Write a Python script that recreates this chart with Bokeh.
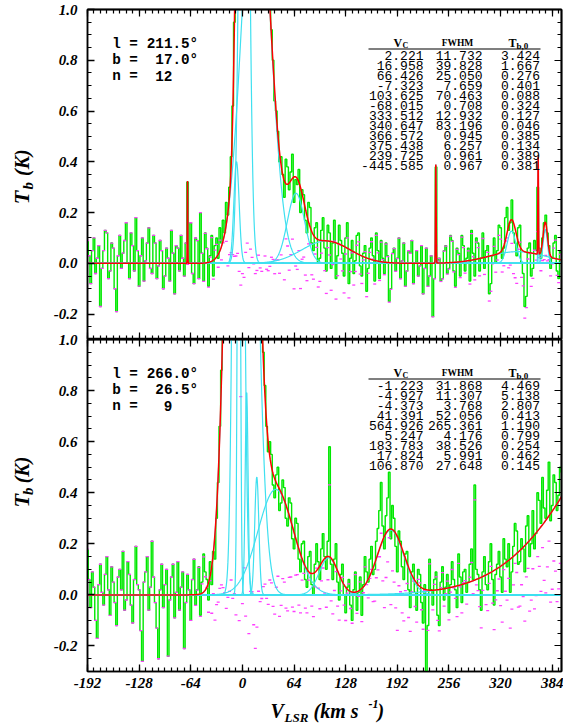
import numpy as np
from bokeh.plotting import figure
from bokeh.models import Range1d, LinearAxis, FixedTicker, PrintfTickFormatter, Label
from bokeh.layouts import column, row
from bokeh.embed import file_html
from bokeh.resources import INLINE

# ---------------- data ----------------
VEL_START = -192.0   # km/s, centre of first channel
VEL_STEP = 2.0       # km/s per channel

# brightness temperature spectra (K) (one row = 20 km/s)
tb_top = [
    0.09, 0.03, -0.08, 0.05, 0.10, -0.04, 0.02, 0.07, -0.17, -0.02,    # -192
    0.05, 0.13, 0.12, -0.06, -0.03, 0.08, 0.06, -0.10, -0.19, 0.03,    # -172
    0.11, -0.02, 0.04, 0.09, 0.16, 0.00, -0.06, 0.12, 0.07, -0.03,     # -152
    0.18, 0.05, -0.09, 0.03, 0.10, -0.07, 0.01, 0.08, 0.14, -0.02,     # -132
    -0.04, 0.11, 0.08, -0.06, -0.01, 0.09, 0.05, -0.10, -0.05, 0.06,   # -112
    0.02, -0.07, 0.13, 0.04, -0.12, 0.07, 0.06, -0.03, 0.11, 0.02,     # -92
    -0.05, 0.08, 0.32, 0.00, 0.16, -0.04, -0.08, 0.10, 0.09, -0.06,    # -72
    0.20, 0.04, -0.07, 0.12, 0.06, -0.09, 0.03, 0.11, -0.05, 0.07,     # -52
    0.10, 0.02, 0.14, 0.08, 0.17, 0.12, 0.24, 0.19, 0.30, 0.42,        # -32
    0.62, 0.95, 1.40, 1.95, 2.55, 3.30, 4.10, 4.50, 4.50, 4.00,        # -12
    3.18, 2.60, 2.12, 1.85, 1.70, 1.66, 1.68, 1.58, 1.50, 1.45,        # 8
    1.38, 1.22, 1.10, 1.00, 0.92, 0.80, 0.64, 0.60, 0.52, 0.40,        # 28
    0.42, 0.35, 0.26, 0.41, 0.38, 0.29, 0.36, 0.43, 0.24, 0.33,        # 48
    0.31, 0.37, 0.20, 0.29, 0.27, 0.17, 0.12, 0.24, 0.22, 0.08,        # 68
    0.05, 0.14, 0.16, 0.00, 0.02, 0.13, 0.18, 0.06, -0.03, 0.15,       # 88
    0.12, -0.02, 0.08, 0.17, -0.06, 0.03, 0.15, 0.09, 0.04, -0.05,     # 108
    0.10, 0.16, -0.08, 0.02, 0.09, -0.04, 0.01, 0.11, 0.12, -0.01,     # 128
    -0.05, 0.04, 0.07, -0.11, -0.02, 0.06, 0.10, 0.03, -0.07, 0.12,    # 148
    0.05, -0.06, 0.09, 0.02, -0.04, 0.08, 0.03, -0.15, -0.10, 0.04,    # 168
    0.06, -0.03, 0.02, 0.10, -0.06, 0.01, 0.08, -0.09, -0.03, 0.05,    # 188
    0.04, 0.09, -0.08, 0.00, 0.05, -0.05, -0.01, 0.07, -0.12, -0.02,   # 208
    0.06, -0.09, -0.05, 0.03, -0.21, -0.06, 0.38, 0.01, 0.02, -0.07,   # 228
    -0.06, 0.05, 0.07, -0.04, -0.02, 0.11, 0.09, -0.03, -0.09, 0.06,   # 248
    0.04, -0.05, 0.11, 0.07, -0.03, 0.02, 0.06, -0.07, 0.13, 0.04,     # 268
    -0.05, 0.10, 0.08, -0.03, 0.02, 0.12, -0.02, 0.05, 0.07, -0.12,    # 288
    -0.08, 0.03, 0.10, 0.00, 0.05, 0.15, 0.14, 0.02, 0.06, 0.18,       # 308
    0.22, 0.13, 0.16, 0.25, 0.12, 0.08, 0.03, 0.14, 0.15, 0.00,        # 328
    -0.04, -0.17, -0.13, 0.06, 0.08, -0.05, -0.02, 0.09, 0.05, 0.30,   # 348
    0.06, 0.02, 0.10, 0.16, 0.19, 0.12, 0.07, -0.02, 0.02, 0.08,       # 368
    0.11, -0.03, -0.06, 0.05, 0.04,                                    # 388
]
tb_bot = [
    0.18, 0.06, -0.05, 0.09, 0.03, -0.10, -0.17, 0.04, 0.12, 0.01,     # -192
    -0.04, 0.08, 0.15, 0.02, -0.08, 0.11, 0.05, -0.03, -0.12, 0.07,    # -172
    0.10, 0.02, 0.17, -0.06, -0.02, 0.13, 0.08, -0.04, -0.11, 0.06,    # -152
    0.19, 0.04, 0.02, -0.14, -0.26, 0.05, 0.09, 0.15, -0.06, 0.03,     # -132
    0.21, 0.07, -0.03, -0.13, -0.25, 0.02, 0.12, -0.05, 0.04, 0.10,    # -112
    -0.24, -0.02, 0.07, 0.12, -0.09, 0.01, 0.13, -0.06, 0.03, 0.09,    # -92
    -0.21, -0.03, 0.08, 0.02, -0.10, 0.06, 0.14, -0.04, 0.02, 0.11,    # -72
    -0.08, 0.05, 0.16, 0.09, 0.06, -0.02, 0.13, 0.04, 0.17, 0.14,      # -52
    0.30, 0.44, 0.66, 0.88, 1.12, 1.40, 1.70, 2.20, 2.85, 3.80,        # -32
    5.00, 6.60, 8.30, 10.5, 12.1, 10.5, 7.60, 6.50, 5.70, 4.80,        # -12
    3.90, 3.40, 3.00, 2.60, 2.35, 2.20, 1.90, 1.40, 1.10, 0.95,        # 8
    0.82, 0.66, 0.56, 0.60, 0.55, 0.43, 0.38, 0.47, 0.50, 0.33,        # 28
    0.36, 0.45, 0.42, 0.30, 0.27, 0.38, 0.36, 0.22, 0.18, 0.30,        # 48
    0.28, 0.14, 0.09, 0.20, 0.21, 0.06, 0.03, 0.15, 0.17, 0.04,        # 68
    0.00, 0.12, 0.20, 0.13, 0.06, 0.18, 0.24, 0.15, 0.10, 0.21,        # 88
    0.58, 0.12, 0.06, 0.14, 0.20, 0.05, -0.02, 0.08, 0.12, 0.00,       # 108
    -0.07, 0.03, 0.06, -0.04, -0.10, 0.02, 0.09, -0.06, 0.01, 0.07,    # 128
    -0.08, 0.04, 0.15, 0.09, 0.05, 0.14, 0.19, 0.08, 0.10, 0.21,       # 148
    0.26, 0.33, 0.44, 0.27, 0.18, 0.31, 0.38, 0.48, 0.22, 0.35,        # 168
    0.30, 0.19, 0.09, 0.25, 0.21, 0.11, 0.06, 0.16, 0.17, 0.02,        # 188
    -0.05, 0.09, 0.12, 0.01, -0.06, 0.10, 0.08, -0.03, -0.11, 0.04,    # 208
    -0.30, -0.12, 0.14, 0.02, -0.04, 0.06, 0.09, -0.08, -0.12, 0.05,   # 228
    0.11, -0.02, 0.03, 0.08, -0.07, 0.04, 0.13, 0.06, 0.02, -0.05,     # 248
    0.16, 0.07, -0.03, 0.09, 0.10, 0.01, 0.05, 0.12, 0.18, 0.06,       # 268
    0.43, 0.10, 0.08, 0.02, -0.06, 0.09, 0.15, 0.04, 0.02, 0.13,       # 288
    0.20, 0.06, -0.04, 0.08, 0.12, 0.17, 0.07, 0.01, 0.22, 0.14,       # 308
    0.11, 0.20, 0.01, 0.09, 0.19, 0.28, 0.25, 0.12, 0.13, 0.22,        # 328
    0.18, 0.09, 0.27, 0.31, 0.15, 0.20, 0.33, 0.18, 0.24, 0.40,        # 348
    0.37, 0.28, 0.46, 0.34, 0.30, 0.41, 0.52, 0.29, 0.35, 0.47,        # 368
    0.44, 0.33, 0.39, 0.50, 0.48,                                      # 388
]

# Gaussian decomposition tables (as printed in each panel)
top_vc = [2.221, 16.958, 66.426, -7.323, 103.625, -68.015, 333.512, 340.647,
          366.572, 375.438, 239.725, -445.585]
top_fwhm = [11.732, 39.828, 25.050, 7.659, 70.463, 0.708, 12.932, 83.196,
            0.945, 6.257, 0.961, 0.967]
top_tb0 = [3.424, 1.667, 0.276, 0.401, 0.088, 0.324, 0.127, 0.046,
           0.385, 0.134, 0.389, 0.381]

bot_vc = [-1.223, -4.927, -4.373, 41.391, 564.926, 5.247, 183.783, 17.824, 106.870]
bot_fwhm = [31.868, 11.307, 3.768, 52.056, 265.361, 4.176, 38.526, 5.991, 27.648]
bot_tb0 = [4.469, 5.138, 2.807, 0.413, 1.190, 0.799, 0.254, 0.462, 0.145]

top_l, top_b, top_n = 211.5, 17.0, 12
bot_l, bot_b, bot_n = 266.0, 26.5, 9

x_ticks = [-192, -128, -64, 0, 64, 128, 192, 256, 320, 384]
y_ticks = [-0.2, 0.0, 0.2, 0.4, 0.6, 0.8, 1.0]

# ---------------- geometry / style ----------------
PAGE_W, PAGE_H = 563, 726
XMIN, XMAX = -192.0, 395.5
YMIN, YMAX = -0.3, 1.0
FRAME_W = 474
YLAB_W = 45          # width of the strip that carries the y titles
LEFT = 87            # page x of the frame's left edge
GREEN = "#00e800"
CYAN = "#3fe0f0"
RED = "#ff0000"
MAGENTA = "#ff3cff"
SERIF = "Liberation Serif"
MONO = "Liberation Mono"
OVERLAP = 10         # bottom panel canvas overlaps the top one (transparent)
XT_OVERLAP = 34      # x-title strip overlaps the bottom panel's lower border

x_minor = list(range(-192, 400, 8))
y_minor = [round(-0.3 + 0.05 * i, 2) for i in range(27)]


def components(v, vc, fw, t0):
    v = np.asarray(v, dtype=float)
    return [t * np.exp(-4.0 * np.log(2.0) * ((v - c) / w) ** 2)
            for c, w, t in zip(vc, fw, t0)]


def base_axis(ax):
    ax.axis_line_color = "black"
    ax.axis_line_width = 1.5
    ax.major_tick_line_color = "black"
    ax.minor_tick_line_color = "black"
    ax.major_tick_line_width = 1.3
    ax.minor_tick_line_width = 1.2
    ax.major_tick_out = 0
    ax.minor_tick_out = 0
    return ax


def labelled_axis(ticks, minor, fmt, standoff):
    ax = base_axis(LinearAxis(ticker=FixedTicker(ticks=ticks, minor_ticks=minor)))
    ax.major_tick_in = 7
    ax.minor_tick_in = 4
    ax.formatter = PrintfTickFormatter(format=fmt)
    ax.major_label_standoff = standoff
    ax.major_label_text_font = SERIF
    ax.major_label_text_font_style = "bold italic"
    ax.major_label_text_font_size = "15px"
    ax.major_label_text_color = "black"
    return ax


def tick_only_axes(p, side, ticks, minor):
    # ticks without any labels: majors and minors as two label-free axes
    for positions, length in ((ticks, 7), (minor, 4)):
        ax = base_axis(LinearAxis(ticker=FixedTicker(ticks=[], minor_ticks=positions)))
        ax.major_tick_in = 0
        ax.minor_tick_in = length
        ax.major_label_standoff = 0
        p.add_layout(ax, side)


def make_panel(frame_h, border_top, border_bottom, xlabels):
    p = figure(title=None, frame_width=FRAME_W, frame_height=frame_h,
               x_range=Range1d(XMIN, XMAX), y_range=Range1d(YMIN, YMAX),
               x_axis_location=None, y_axis_location=None,
               output_backend="svg", toolbar_location=None,
               min_border_left=LEFT - YLAB_W, min_border_right=2,
               min_border_top=border_top, min_border_bottom=border_bottom,
               background_fill_color="white", border_fill_color=None,
               outline_line_color="black", outline_line_width=1.5)
    p.xgrid.visible = False
    p.ygrid.visible = False
    p.add_layout(labelled_axis(y_ticks, y_minor, "%.1f", 10), "left")
    if xlabels:
        p.add_layout(labelled_axis(x_ticks, x_minor, "%d", 6), "below")
    else:
        tick_only_axes(p, "below", x_ticks, x_minor)
    tick_only_axes(p, "above", x_ticks, x_minor)
    tick_only_axes(p, "right", y_ticks, y_minor)
    return p


def strip(width, height):
    s = figure(title=None, width=width, height=height, x_range=Range1d(0, width),
               y_range=Range1d(height, 0), x_axis_location=None,
               y_axis_location=None, output_backend="svg",
               toolbar_location=None, min_border=0,
               outline_line_color=None, background_fill_color=None,
               border_fill_color=None)
    s.xgrid.visible = False
    s.ygrid.visible = False
    return s


def draw_spectrum(p, tb, vc, fw, t0):
    vel = VEL_START + VEL_STEP * np.arange(len(tb))
    tb = np.asarray(tb, dtype=float)
    model_at_chan = np.sum(components(vel, vc, fw, t0), axis=0)
    resid = tb - model_at_chan
    grid = [np.arange(XMIN, XMAX + 0.5, 0.5)]
    for c, w in zip(vc, fw):
        if w < 3 and XMIN < c < XMAX:
            grid.append(np.linspace(c - 4 * w, c + 4 * w, 81))
    vf = np.unique(np.concatenate(grid))
    comps = components(vf, vc, fw, t0)
    total = np.sum(comps, axis=0)
    p.step(vel, tb, mode="center", line_color=GREEN, line_width=1.4)
    p.scatter(vel, resid, marker="dash", size=3, line_color=MAGENTA, line_width=1.3)
    for cmp in comps:
        p.line(vf, cmp, line_color=CYAN, line_width=1.2)
    p.line(vf, total, line_color=RED, line_width=1.5)


def px2x(px):
    return XMIN + (px - LEFT) * (XMAX - XMIN) / FRAME_W


def px2y(py, top, h):
    return YMAX - (py - top) * (YMAX - YMIN) / h


def label(p, x, y, text, size, font, style="normal", align="left", angle=0.0):
    p.add_layout(Label(x=x, y=y, text=text, text_font=font,
                       text_font_size=size, text_font_style=style,
                       text_align=align, text_baseline="middle",
                       angle=angle, text_color="black"))


def annotate(p, top, h, lval, bval, nval, vc, fw, t0):
    cw = 8.6
    x0 = 111.7
    rows = [("l =", f"{lval:.1f}°", 10), ("b =", f"{bval:.1f}°", 10), ("n =", f"{nval}", 7)]
    for i, (k, v, endcol) in enumerate(rows):
        yy = px2y(top + 34 + 16.3 * i, top, h)
        label(p, px2x(x0), yy, k, "14.3px", MONO, "bold")
        label(p, px2x(x0 + endcol * cw), yy, v, "14.3px", MONO, "bold", align="right")
    hy = top + 33
    label(p, px2x(393), px2y(hy, top, h), "V", "12px", SERIF, "bold")
    label(p, px2x(402), px2y(hy + 3, top, h), "C", "8px", SERIF, "bold")
    label(p, px2x(457), px2y(hy, top, h), "FWHM", "9.5px", SERIF, "bold", align="center")
    label(p, px2x(508), px2y(hy, top, h), "T", "12px", SERIF, "bold")
    label(p, px2x(516), px2y(hy + 3, top, h), "b,0", "9px", SERIF, "bold")
    uy = px2y(top + 39.5, top, h)
    p.segment(x0=[px2x(368)], y0=[uy], x1=[px2x(540)], y1=[uy],
              line_color="black", line_width=1.2)
    for i, (c, w, t) in enumerate(zip(vc, fw, t0)):
        yy = px2y(top + 46 + 10.0 * i, top, h)
        label(p, px2x(423), yy, f"{c:.3f}", "13px", MONO, align="right")
        label(p, px2x(482), yy, f"{w:.3f}", "13px", MONO, align="right")
        label(p, px2x(539.5), yy, f"{t:.3f}", "13px", MONO, align="right")


def y_title(s, t_start):
    # rotated "T_b (K)", read bottom to top; x is the middle line of each piece
    ang = np.pi / 2
    label(s, 21, t_start, "T", "22px", SERIF, "bold italic", angle=ang)
    label(s, 27, t_start - 15, "b", "15px", SERIF, "bold italic", angle=ang)
    label(s, 21, t_start - 29, "(K)", "20px", SERIF, "bold italic", angle=ang)


# ---------------- panels ----------------
H1, H2 = 330, 332
TOP1, TOP2 = 9, 339
BOT2 = PAGE_H - TOP2 - H2          # bottom panel's lower border reaches the page end

p1 = make_panel(H1, TOP1, 0, False)
draw_spectrum(p1, tb_top, top_vc, top_fwhm, top_tb0)
annotate(p1, TOP1, H1, top_l, top_b, top_n, top_vc, top_fwhm, top_tb0)

p2 = make_panel(H2, OVERLAP, BOT2, True)
draw_spectrum(p2, tb_bot, bot_vc, bot_fwhm, bot_tb0)
annotate(p2, TOP2, H2, bot_l, bot_b, bot_n, bot_vc, bot_fwhm, bot_tb0)

h_row1 = TOP1 + H1
h_row2 = OVERLAP + H2 + BOT2
s1 = strip(YLAB_W, h_row1)
y_title(s1, 200)
s2 = strip(YLAB_W, h_row2)
y_title(s2, 530 - (TOP2 - OVERLAP))

xl_top = PAGE_H - XT_OVERLAP
s3 = strip(PAGE_W, XT_OVERLAP)
label(s3, 270, 710 - xl_top, "V", "20px", SERIF, "bold italic")
label(s3, 284, 717 - xl_top, "LSR", "13px", SERIF, "bold italic")
label(s3, 313, 710 - xl_top, "(km s", "20px", SERIF, "bold italic")
label(s3, 368, 703 - xl_top, "-1", "12px", SERIF, "bold italic")
label(s3, 377, 710 - xl_top, ")", "20px", SERIF, "bold italic")
s3.margin = (-XT_OVERLAP, 0, 0, 0)

r1 = row(s1, p1, spacing=0)
r2 = row(s2, p2, spacing=0)
r2.margin = (-OVERLAP, 0, 0, 0)
layout = column(r1, r2, s3, spacing=0)
open("out.html", "w").write(file_html(layout, INLINE))
